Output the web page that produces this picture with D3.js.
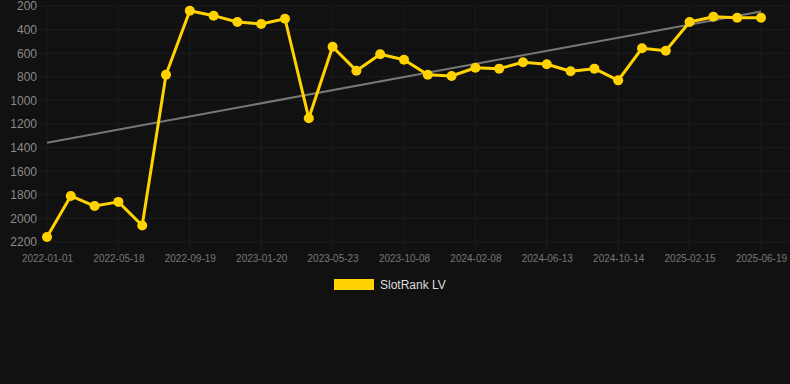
<!DOCTYPE html>
<html>
<head>
<meta charset="utf-8">
<script src="https://cdn.jsdelivr.net/npm/d3@7"></script>
<style>
    body { margin: 0; background: #111111; }
    svg { display: block; font-family: "Liberation Sans", Arial, sans-serif; }
</style>
</head>
<body>
<svg id="chart"></svg>
<script>
const dates = [
    "2022-01-01", "2022-02-15", "2022-04-01", "2022-05-18", "2022-06-29",
    "2022-08-09", "2022-09-19", "2022-10-30", "2022-12-10", "2023-01-20",
    "2023-03-02", "2023-04-12", "2023-05-23", "2023-07-08", "2023-08-23",
    "2023-10-08", "2023-11-18", "2023-12-29", "2024-02-08", "2024-03-20",
    "2024-05-01", "2024-06-13", "2024-07-24", "2024-09-03", "2024-10-14",
    "2024-11-24", "2025-01-04", "2025-02-15", "2025-03-28", "2025-05-08",
    "2025-06-19"
];
const ranks = [
    2158, 1810, 1895, 1860, 2060, 782, 240, 282, 336, 353,
    308, 1152, 545, 748, 609, 655, 782, 793, 723, 731,
    677, 694, 753, 731, 830, 558, 579, 336, 291, 299,
    299
];
const yTicks = [200, 400, 600, 800, 1000, 1200, 1400, 1600, 1800, 2000, 2200];
const seriesName = "SlotRank LV";

const width = 790,
    height = 384;
const margin = { top: 6, right: 29, bottom: 142, left: 47 };

const svg = d3.select("#chart").attr("width", width).attr("height", height);

const x = d3
    .scalePoint()
    .domain(dates)
    .range([margin.left, width - margin.right]);

const y = d3
    .scaleLinear()
    .domain([200, 2200])
    .range([margin.top, height - margin.bottom]);

const shownDates = dates.filter((d, i) => i % 3 == 0);

// grid, faint with little tick overhang like the original
svg.append("g")
    .selectAll("line")
    .data(yTicks)
    .enter()
    .append("line")
    .attr("x1", margin.left - 8)
    .attr("x2", width)
    .attr("y1", d => y(d))
    .attr("y2", d => y(d))
    .attr("stroke", "#1d1d1d")
    .attr("stroke-width", 1);

svg.append("g")
    .selectAll("line")
    .data(shownDates)
    .enter()
    .append("line")
    .attr("x1", d => x(d))
    .attr("x2", d => x(d))
    .attr("y1", margin.top)
    .attr("y2", height - margin.bottom + 8)
    .attr("stroke", "#1d1d1d")
    .attr("stroke-width", 1);

// y axis labels
const yAxis = svg
    .append("g")
    .attr("transform", `translate(${margin.left - 10},0)`)
    .call(d3.axisLeft(y).tickValues(yTicks).tickSize(0).tickFormat(d3.format("d")));
yAxis.select(".domain").remove();
yAxis.selectAll("text")
    .attr("fill", "#8a8a8a")
    .attr("font-size", 12)
    .attr("x", 0)
    .attr("font-family", "Liberation Sans, Arial, sans-serif");

// x axis labels
const xAxis = svg
    .append("g")
    .attr("transform", `translate(0,${height - margin.bottom})`)
    .call(d3.axisBottom(x).tickValues(shownDates).tickSize(0));
xAxis.select(".domain").remove();
xAxis.selectAll("text")
    .attr("fill", "#777")
    .attr("font-size", 10)
    .attr("dy", "1.2em")
    .attr("y", 8)
    .attr("font-family", "Liberation Sans, Arial, sans-serif");

// trend line (least squares over index)
const n = ranks.length;
const mx = d3.mean(ranks, (d, i) => i);
const my = d3.mean(ranks);
let sxy = 0, sxx = 0;
ranks.forEach((d, i) => {
    sxy += (i - mx) * (d - my);
    sxx += (i - mx) * (i - mx);
});
const slope = sxy / sxx;
const icpt = my - slope * mx;

svg.append("line")
    .attr("x1", x(dates[0]))
    .attr("y1", y(icpt))
    .attr("x2", x(dates[n - 1]))
    .attr("y2", y(icpt + slope * (n - 1)))
    .attr("stroke", "#777")
    .attr("stroke-width", 2);

// series
const line = d3
    .line()
    .x((d, i) => x(dates[i]))
    .y(d => y(d));

svg.append("path")
    .datum(ranks)
    .attr("d", line)
    .attr("fill", "none")
    .attr("stroke", "#FFD200")
    .attr("stroke-width", 3)
    .attr("stroke-linejoin", "round");

svg.append("g")
    .selectAll("circle")
    .data(ranks)
    .enter()
    .append("circle")
    .attr("cx", (d, i) => x(dates[i]))
    .attr("cy", d => y(d))
    .attr("r", 5)
    .attr("fill", "#FFD200");

// legend
const legend = svg.append("g").attr("transform", "translate(334,279)");
legend.append("rect")
    .attr("width", 40)
    .attr("height", 11)
    .attr("fill", "#FFD200");
legend.append("text")
    .attr("x", 46)
    .attr("y", 10)
    .attr("fill", "#dddddd")
    .attr("font-size", 12)
    .text(seriesName);
</script>
</body>
</html>
